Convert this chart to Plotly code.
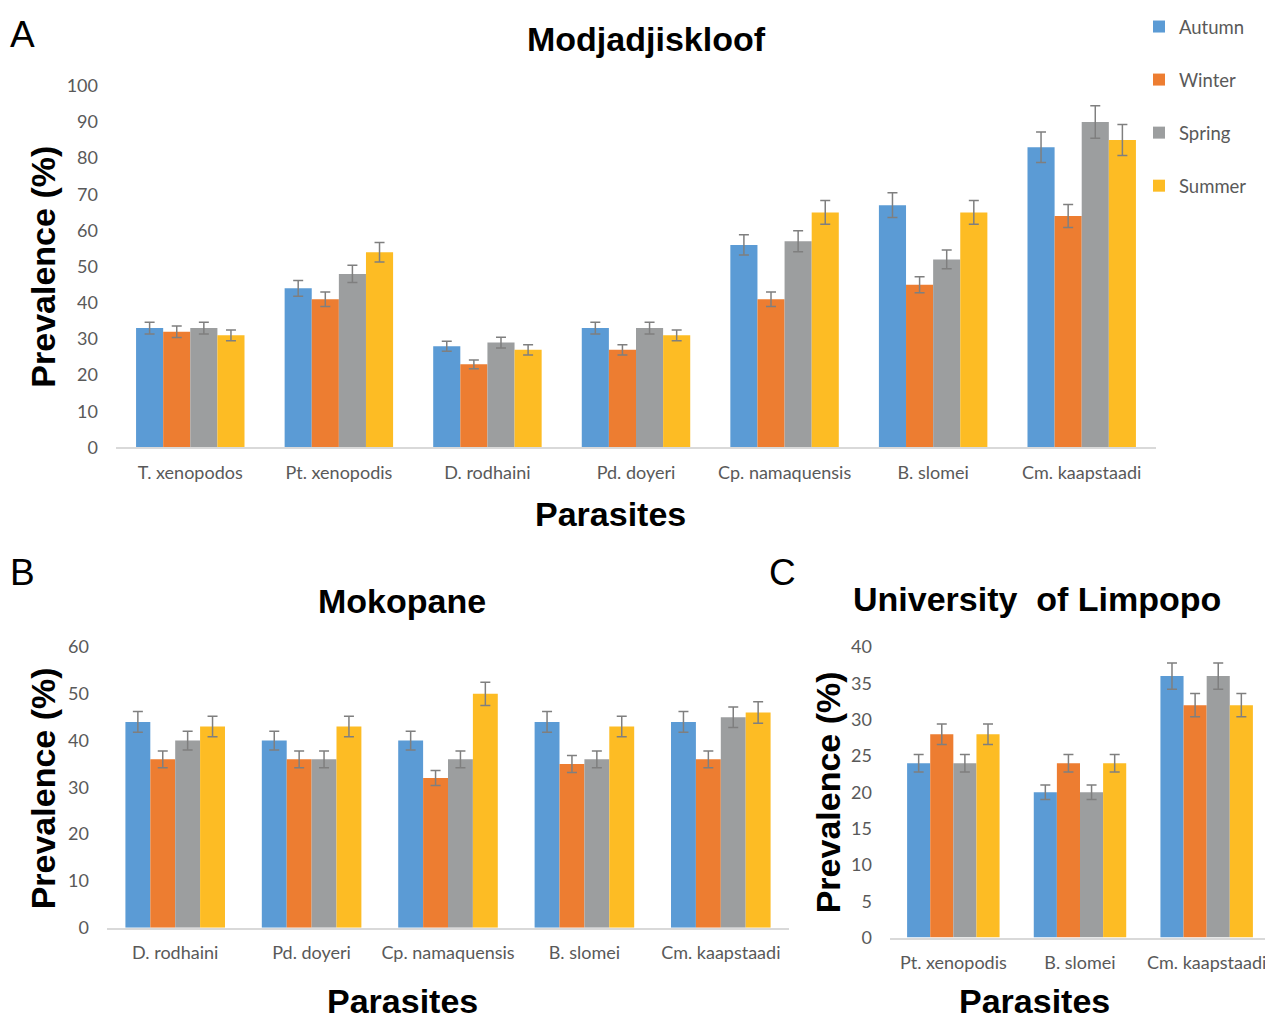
import plotly.graph_objects as go

W, H = 1273, 1024

seasons = ["Autumn", "Winter", "Spring", "Summer"]
colors = ["#5B9BD5", "#ED7D31", "#9C9E9F", "#FDBC24"]

# Panel A - Modjadjiskloof
catA = ["T. xenopodos", "Pt. xenopodis", "D. rodhaini", "Pd. doyeri",
        "Cp. namaquensis", "B. slomei", "Cm. kaapstaadi"]
A_autumn = [33, 44, 28, 33, 56, 67, 83]
A_winter = [32, 41, 23, 27, 41, 45, 64]
A_spring = [33, 48, 29, 33, 57, 52, 90]
A_summer = [31, 54, 27, 31, 65, 65, 85]
A_autumn_err = [1.6, 2.2, 1.4, 1.6, 2.8, 3.4, 4.2]
A_winter_err = [1.6, 2.0, 1.2, 1.4, 2.0, 2.2, 3.2]
A_spring_err = [1.6, 2.4, 1.5, 1.6, 2.9, 2.6, 4.5]
A_summer_err = [1.5, 2.7, 1.4, 1.5, 3.3, 3.3, 4.3]

# Panel B - Mokopane
catB = ["D. rodhaini", "Pd. doyeri", "Cp. namaquensis", "B. slomei", "Cm. kaapstaadi"]
B_autumn = [44, 40, 40, 44, 44]
B_winter = [36, 36, 32, 35, 36]
B_spring = [40, 36, 36, 36, 45]
B_summer = [43, 43, 50, 43, 46]
B_autumn_err = [2.2, 2.0, 2.0, 2.2, 2.2]
B_winter_err = [1.8, 1.8, 1.6, 1.8, 1.8]
B_spring_err = [2.0, 1.8, 1.8, 1.8, 2.2]
B_summer_err = [2.2, 2.2, 2.5, 2.2, 2.3]

# Panel C - University of Limpopo
catC = ["Pt. xenopodis", "B. slomei", "Cm. kaapstaadi"]
C_autumn = [24, 20, 36]
C_winter = [28, 24, 32]
C_spring = [24, 20, 36]
C_summer = [28, 24, 32]
C_autumn_err = [1.2, 1.0, 1.8]
C_winter_err = [1.4, 1.2, 1.6]
C_spring_err = [1.2, 1.0, 1.8]
C_summer_err = [1.4, 1.2, 1.6]

panels = [
    ("x", "y", catA, [A_autumn, A_winter, A_spring, A_summer],
     [A_autumn_err, A_winter_err, A_spring_err, A_summer_err], True),
    ("x2", "y2", catB, [B_autumn, B_winter, B_spring, B_summer],
     [B_autumn_err, B_winter_err, B_spring_err, B_summer_err], False),
    ("x3", "y3", catC, [C_autumn, C_winter, C_spring, C_summer],
     [C_autumn_err, C_winter_err, C_spring_err, C_summer_err], False),
]

fig = go.Figure()
for xa, ya, cats, vals, errs, show in panels:
    for i, s in enumerate(seasons):
        fig.add_trace(go.Bar(
            x=cats, y=vals[i], name=s, xaxis=xa, yaxis=ya,
            marker=dict(color=colors[i], line=dict(width=0)),
            error_y=dict(type="data", array=errs[i], visible=True,
                         color="#7F7F7F", thickness=1.5, width=5),
            legendgroup=s, showlegend=show,
        ))

# map target screen pixels to paper fractions
def px_x(p):
    return (p - 8) / W

def px_y(p):
    return 1 - ((p - 17.5) / 0.9814) / H

tickfont_y = dict(family="Lato, Open Sans, sans-serif", size=18, color="#595959")
tickfont_x = dict(family="Lato, Open Sans, sans-serif", size=18, color="#595959")

def xaxis(x0, x1, anchor):
    return dict(domain=[px_x(x0), px_x(x1)], anchor=anchor, showgrid=False,
                showline=True, linecolor="#D9D9D9", linewidth=1.5, ticks="",
                tickfont=tickfont_x, ticklabelstandoff=8, fixedrange=True)

def yaxis(y0, y1, rng, dtick, anchor):
    return dict(domain=[px_y(y0), px_y(y1)], anchor=anchor, range=rng, dtick=dtick,
                showgrid=False, showline=False, zeroline=False, ticks="",
                tickfont=tickfont_y, ticklabelstandoff=17, fixedrange=True)

bold = dict(family="Liberation Sans, Arial, sans-serif", size=34, color="#000000")
letter = dict(family="Liberation Sans, Arial, sans-serif", size=37, color="#000000")

def ann(text, x, y, font, angle=0):
    return dict(text=text, x=px_x(x), y=px_y(y), xref="paper", yref="paper",
                xanchor="center", yanchor="middle", showarrow=False,
                font=font, textangle=angle)

def ann_bottom(text, x, font):
    return dict(text=text, x=px_x(x), y=0, xref="paper", yref="paper",
                xanchor="center", yanchor="bottom", showarrow=False, font=font)

annotations = [
    ann("A", 22, 23, letter),
    ann("<b>Modjadjiskloof</b>", 646, 28, bold),
    ann("<b>Prevalence (%)</b>", 43, 258, bold, -90),
    ann("<b>Parasites</b>", 610, 508, bold),
    ann("B", 22, 568, letter),
    ann("<b>Mokopane</b>", 402, 596, bold),
    ann("<b>Prevalence (%)</b>", 43, 786, bold, -90),
    ann_bottom("<b>Parasites</b>", 402, bold),
    ann("C", 782, 568, letter),
    ann("<b>University  of Limpopo</b>", 1037, 594, bold),
    ann("<b>Prevalence (%)</b>", 828, 790, bold, -90),
    ann_bottom("<b>Parasites</b>", 1034, bold),
]

fig.update_layout(
    width=W, height=H,
    margin=dict(l=0, r=0, t=0, b=0),
    paper_bgcolor="white", plot_bgcolor="white",
    barmode="group", bargap=0.27, bargroupgap=0,
    xaxis=xaxis(116, 1156, "y"),
    yaxis=yaxis(441, 75, [0, 100], 10, "x"),
    xaxis2=xaxis(107, 789, "y2"),
    yaxis2=yaxis(927, 643, [0, 60], 10, "x2"),
    xaxis3=xaxis(890, 1270, "y3"),
    yaxis3=yaxis(937, 643, [0, 40], 5, "x3"),
    legend=dict(x=px_x(1139), y=px_y(-4), xanchor="left", yanchor="top",
                font=dict(family="Lato, Open Sans, sans-serif", size=18.5, color="#595959"),
                tracegroupgap=26, itemwidth=30, bgcolor="rgba(0,0,0,0)"),
    annotations=annotations,
    showlegend=True,
)

fig.write_html("out.html")
